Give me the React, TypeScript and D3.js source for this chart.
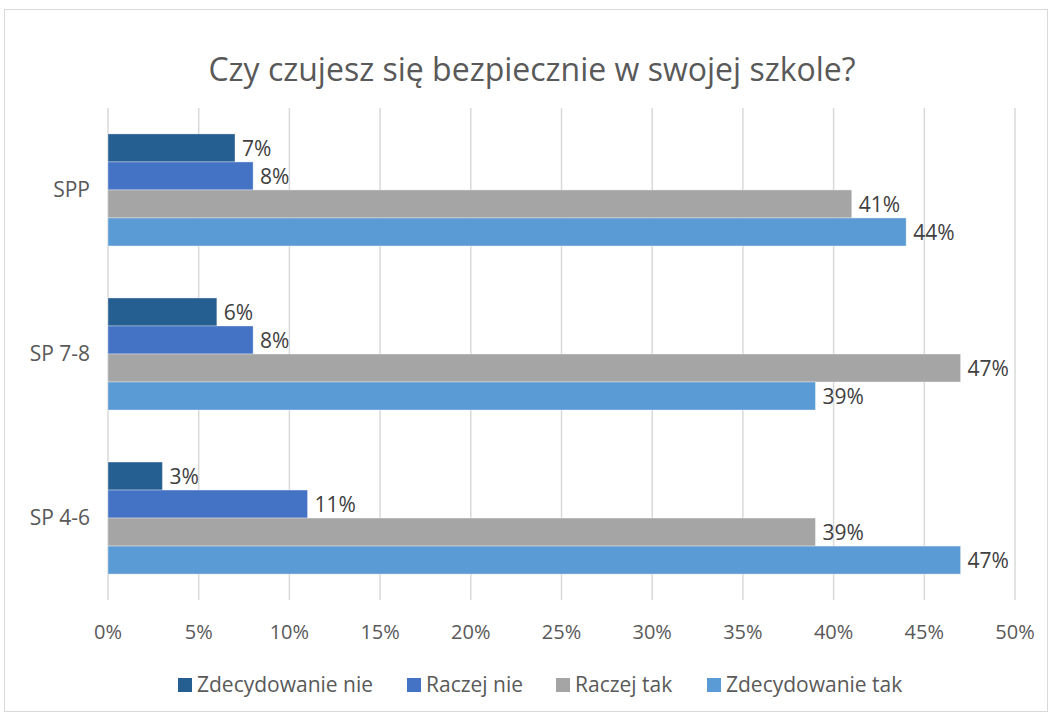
import { useEffect, useRef } from "react"
import * as d3 from "d3"

const categories = ["SPP", "SP 7-8", "SP 4-6"]
const seriesNames = ["Zdecydowanie nie", "Raczej nie", "Raczej tak", "Zdecydowanie tak"]
const seriesColors = ["#255E91", "#4472C4", "#A5A5A5", "#5B9BD5"]
const zdecydowanieNie = [7, 6, 3]
const raczejNie = [8, 8, 11]
const raczejTak = [41, 47, 39]
const zdecydowanieTak = [44, 39, 47]
const xTicks = [0, 5, 10, 15, 20, 25, 30, 35, 40, 45, 50]

const W = 1052
const H = 717
const FONT = "'Open Sans', 'Noto Sans', sans-serif"

export default function App() {
  const svgRef = useRef<SVGSVGElement>(null)

  useEffect(() => {
    document.body.style.margin = "0"
    if (!svgRef.current) return
    const values = [zdecydowanieNie, raczejNie, raczejTak, zdecydowanieTak]

    const svg = d3.select(svgRef.current)
    svg.selectAll("*").remove()

    const margin = { top: 108, right: 37, bottom: 117, left: 108 }
    const innerW = W - margin.left - margin.right
    const innerH = H - margin.top - margin.bottom

    // chart border
    svg
      .append("rect")
      .attr("x", 4.5)
      .attr("y", 9.5)
      .attr("width", 1043)
      .attr("height", 702)
      .attr("fill", "#fff")
      .attr("stroke", "#d9d9d9")
      .attr("stroke-width", 1)

    svg
      .append("text")
      .attr("x", 532)
      .attr("y", 81)
      .attr("text-anchor", "middle")
      .attr("font-family", FONT)
      .attr("font-size", 32)
      .attr("fill", "#595959")
      .text("Czy czujesz się bezpiecznie w swojej szkole?")

    const g = svg.append("g").attr("transform", `translate(${margin.left},${margin.top})`)

    const x = d3.scaleLinear().domain([0, 50]).range([0, innerW])
    const y0 = d3.scaleBand().domain(categories).range([0, innerH]).paddingInner(0.317).paddingOuter(0.158)
    const y1 = d3.scaleBand().domain(seriesNames).range([0, y0.bandwidth()])

    // grid
    g.append("g")
      .selectAll("line")
      .data(xTicks)
      .join("line")
      .attr("x1", (d) => x(d))
      .attr("x2", (d) => x(d))
      .attr("y1", 0)
      .attr("y2", innerH)
      .attr("stroke", "#d9d9d9")
      .attr("stroke-width", 1.5)

    // tick labels
    g.append("g")
      .selectAll("text")
      .data(xTicks)
      .join("text")
      .attr("x", (d) => x(d))
      .attr("y", innerH + 39)
      .attr("text-anchor", "middle")
      .attr("font-family", FONT)
      .attr("font-size", 20)
      .attr("fill", "#595959")
      .text((d) => `${d}%`)

    // category labels
    g.append("g")
      .selectAll("text")
      .data(categories)
      .join("text")
      .attr("x", -18)
      .attr("y", (d) => (y0(d) as number) + y0.bandwidth() / 2)
      .attr("dy", "0.35em")
      .attr("text-anchor", "end")
      .attr("font-family", FONT)
      .attr("font-size", 21)
      .attr("fill", "#595959")
      .text((d) => d)

    const groups = g
      .append("g")
      .selectAll("g")
      .data(categories)
      .join("g")
      .attr("transform", (d) => `translate(0,${y0(d)})`)

    groups.each(function (cat, ci) {
      const grp = d3.select(this)
      seriesNames.forEach((s, si) => {
        const v = values[si][ci]
        grp
          .append("rect")
          .attr("x", 0)
          .attr("y", y1(s) as number)
          .attr("width", x(v))
          .attr("height", y1.bandwidth())
          .attr("fill", seriesColors[si])
          .attr("stroke", "#fff")
          .attr("stroke-opacity", 0.35)
          .attr("stroke-width", 1)
        grp
          .append("text")
          .attr("x", x(v) + 7)
          .attr("y", (y1(s) as number) + y1.bandwidth() / 2)
          .attr("dy", "0.38em")
          .attr("font-family", FONT)
          .attr("font-size", 21)
          .attr("fill", "#404040")
          .text(`${v}%`)
      })
    })

    // legend
    const legendX = [178, 407, 556, 707]
    const legend = svg
      .append("g")
      .selectAll("g")
      .data(seriesNames)
      .join("g")
      .attr("transform", (d, i) => `translate(${legendX[i]},685)`)
    legend
      .append("rect")
      .attr("x", 0)
      .attr("y", -7)
      .attr("width", 14)
      .attr("height", 14)
      .attr("fill", (d, i) => seriesColors[i])
    legend
      .append("text")
      .attr("x", 19)
      .attr("y", 0)
      .attr("dy", "0.35em")
      .attr("font-family", FONT)
      .attr("font-size", 21)
      .attr("fill", "#595959")
      .text((d) => d)
  }, [])

  return <svg ref={svgRef} width={W} height={H} style={{ display: "block" }} />
}
